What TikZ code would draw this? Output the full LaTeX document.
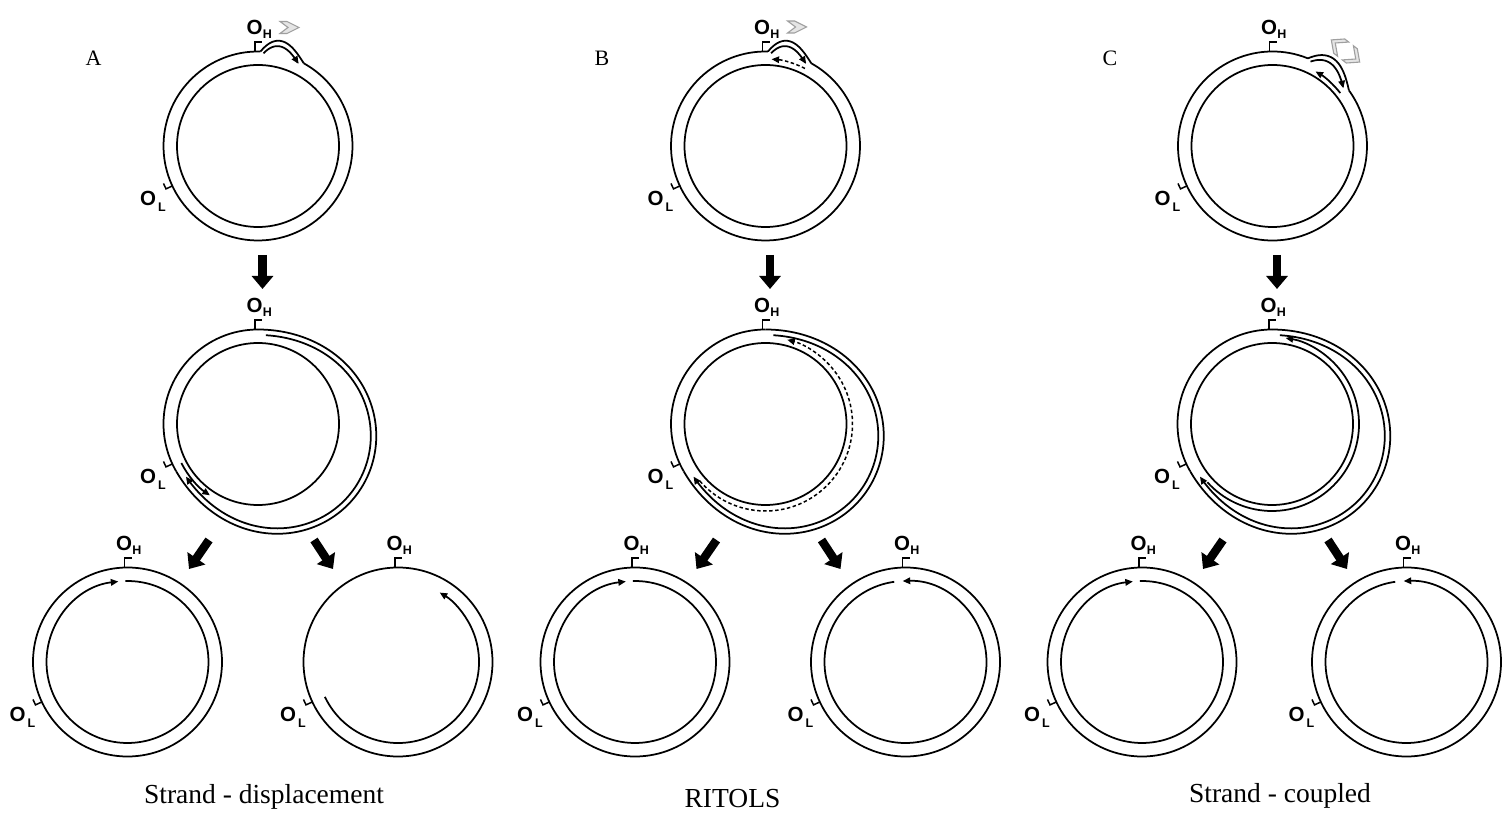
\documentclass[tikz,border=0pt]{standalone}
\usepackage{fontspec}
\setmainfont{Liberation Serif}
\newfontfamily\labfont{Liberation Sans}
\usetikzlibrary{arrows.meta,calc}

\newcommand{\OHtxt}{O\kern0.3pt\raisebox{-4pt}{\fontsize{12.5}{12.5}\selectfont H}}
\newcommand{\OLtxt}{O\kern2pt\raisebox{-6pt}{\fontsize{12.5}{12.5}\selectfont L}}

% O_H and O_L ticks and labels around a circle centre #1
\newcommand{\origins}[1]{%
  \draw[tickline] ($(#1)+(-3,94.5)$) -- ++(0,9.5) -- ++(7,0);
  \node[lab] (#1oh) at ($(#1)+(-11.5,111)$) {\OHtxt};
  \draw[tickline] ($(#1)+(205:94.5)$) -- ++(205:7) -- ++(115:6);
  \node[lab] (#1ol) at ($(#1)+(-118,-59.5)$) {\OLtxt};
}
% replication bubble: #1 start angle, #2 span, #3 height
\newcommand{\rbubble}[3]{%
  \draw[strand] plot[domain=0:1, samples=41, smooth, variable=\t]
   ({(94.5+#3*sin(180*\t*(1.4-0.4*\t)))*cos(#1-#2*\t)},
    {(94.5+#3*sin(180*\t*(1.4-0.4*\t)))*sin(#1-#2*\t)});
  \draw[strand] (#1:94.5) arc[start angle=#1, end angle={#1-#2+360}, radius=94.5];
  \draw[strand,tip] plot[domain=0.07:0.9, samples=31, smooth, variable=\t]
   ({(89+#3*sin(180*\t*(1.4-0.4*\t)))*cos(#1-#2*\t)},
    {(89+#3*sin(180*\t*(1.4-0.4*\t)))*sin(#1-#2*\t)});
}
% displaced strand (middle stage)
\newcommand{\rfork}{%
  \draw[strand] plot[domain=0:1, samples=121, smooth, variable=\t]
   ({(94.5+27*sin(180*\t)*sin(180*\t))*cos(90-240*\t)},
    {(94.5+27*sin(180*\t)*sin(180*\t))*sin(90-240*\t)});
  \draw[strand] (90:94.5) arc[start angle=90, end angle=210, radius=94.5];
  \draw[strand,tip] plot[domain=0.021:0.975, samples=111, smooth, variable=\t]
   ({(89+27*sin(180*\t)*sin(180*\t))*cos(90-240*\t)},
    {(89+27*sin(180*\t)*sin(180*\t))*sin(90-240*\t)});
  \draw[strand] (0,0) circle[radius=81];
}

\begin{document}
\begin{tikzpicture}[x=1pt,y=1pt,
  strand/.style={line width=1.75pt},
  tickline/.style={line width=1.5pt},
  tip/.style={-{Triangle[length=7.5pt,width=6.5pt]}},
  rna/.style={line width=1.5pt, dash pattern=on 3.5pt off 2.5pt},
  bigarrow/.style={line width=8.5pt, -{Triangle[length=13pt,width=21pt]}},
  chev/.style={draw=gray!75, fill=gray!20, line width=1.1pt, line join=miter},
  lab/.style={anchor=base west, inner sep=0pt, font=\labfont\bfseries\fontsize{20.5}{20.5}\selectfont},
  panel/.style={anchor=base, inner sep=0pt, font=\fontsize{22}{22}\selectfont},
  caption/.style={anchor=base, inner sep=0pt, font=\fontsize{27.5}{30}\selectfont},
  hchev/.pic={\draw[chev] (-10,6) -- (-3,6) -- (9,0) -- (-3,-6) -- (-10,-6) -- (-2,0) -- cycle;},
  dchev/.pic={\draw[chev] (3,9) -- (8,9) -- (18,0) -- (8,-9) -- (3,-9) -- (13,0) -- cycle;
              \draw[chev] (-3,9) -- (-8,9) -- (-18,0) -- (-8,-9) -- (-3,-9) -- (-13,0) -- cycle;}]

\fill[white] (0,0) rectangle (1502,812);
\useasboundingbox (0,0) rectangle (1502,812);

% centres
\coordinate (A1) at (258,666);   \coordinate (B1) at (765.5,666); \coordinate (C1) at (1272.5,666);
\coordinate (A2) at (258,388);   \coordinate (B2) at (765.5,388); \coordinate (C2) at (1272,388);
\coordinate (A3) at (127.5,150); \coordinate (A4) at (398,150);
\coordinate (B3) at (635,150);   \coordinate (B4) at (905.5,150);
\coordinate (C3) at (1142,150);  \coordinate (C4) at (1406.5,150);

% ---------- top row ----------
\begin{scope}[shift={(A1)}]
  \draw[strand] (0,0) circle[radius=81];
  \rbubble{88.5}{27.5}{13}
\end{scope}
\begin{scope}[shift={(B1)}]
  \draw[strand] (0,0) circle[radius=81];
  \rbubble{88.5}{27.5}{13}
  \draw[rna,tip] (63:87) arc[start angle=63, end angle=86, radius=87];
\end{scope}
\begin{scope}[shift={(C1)}]
  \draw[strand] (0,0) circle[radius=81];
  \rbubble{68}{32}{12}
  \draw[strand,tip] (38:86) arc[start angle=38, end angle=60, radius=86];
\end{scope}
\pic at (290,784.5) {hchev};
\pic at (797.5,785) {hchev};
\pic[rotate=-38] at (1345.5,761) {dchev};

% ---------- middle row ----------
\begin{scope}[shift={(A2)}]
  \rfork
  \draw[strand,tip] (207:86) arc[start angle=207, end angle=236, radius=86];
\end{scope}
\begin{scope}[shift={(B2)}]
  \rfork
  \draw[rna,tip] (221:87) arc[start angle=221, end angle=435.5, radius=87];
\end{scope}
\begin{scope}[shift={(C2)}]
  \rfork
  \draw[strand,tip] (222:87) arc[start angle=222, end angle=441, radius=87];
\end{scope}

% ---------- bottom row ----------
\begin{scope}[shift={(A3)}]
  \draw[strand] (0,0) circle[radius=94.5];
  \draw[strand,tip] (91.5:81) arc[start angle=91.5, end angle=-263.5, radius=81];
\end{scope}
\begin{scope}[shift={(A4)}]
  \draw[strand] (0,0) circle[radius=94.5];
  \draw[strand,tip] (205.5:81) arc[start angle=205.5, end angle=419, radius=81];
\end{scope}
\begin{scope}[shift={(B3)}]
  \draw[strand] (0,0) circle[radius=94.5];
  \draw[strand,tip] (91.5:81) arc[start angle=91.5, end angle=-263.5, radius=81];
\end{scope}
\begin{scope}[shift={(B4)}]
  \draw[strand] (0,0) circle[radius=94.5];
  \draw[strand,tip] (98:81) arc[start angle=98, end angle=452, radius=81];
\end{scope}
\begin{scope}[shift={(C3)}]
  \draw[strand] (0,0) circle[radius=94.5];
  \draw[strand,tip] (91.5:81) arc[start angle=91.5, end angle=-263.5, radius=81];
\end{scope}
\begin{scope}[shift={(C4)}]
  \draw[strand] (0,0) circle[radius=94.5];
  \draw[strand,tip] (98:81) arc[start angle=98, end angle=452, radius=81];
\end{scope}

% origins
\origins{A1}\origins{B1}\origins{C1}
\origins{A2}\origins{B2}\origins{C2}
\origins{A3}\origins{A4}\origins{B3}\origins{B4}\origins{C3}\origins{C4}

% ---------- block arrows ----------
\foreach \p in {A,B,C}{
  \coordinate (\p d1) at ($(\p1)+(4.5,-109)$);
  \coordinate (\p d2) at ($(\p1)+(4.5,-143)$);
  \coordinate (\p l1) at ($(\p2)+(-49,-116)$);
  \coordinate (\p l2) at ($(\p2)+(-69,-145)$);
  \coordinate (\p r1) at ($(\p2)+(56,-116)$);
  \coordinate (\p r2) at ($(\p2)+(75,-145)$);
  \draw[bigarrow] (\p d1) -- (\p d2);
  \draw[bigarrow] (\p l1) -- (\p l2);
  \draw[bigarrow] (\p r1) -- (\p r2);
}

% ---------- texts ----------
\node[panel] (lA) at (93.5,746) {A};
\node[panel] (lB) at (602,746) {B};
\node[panel] (lC) at (1110,746) {C};
\node[caption] (capA) at (264,9) {Strand - displacement};
\node[caption] (capB) at (732.5,4.5) {RITOLS};
\node[caption] (capC) at (1280,9.5) {Strand - coupled};
\end{tikzpicture}
\end{document}
